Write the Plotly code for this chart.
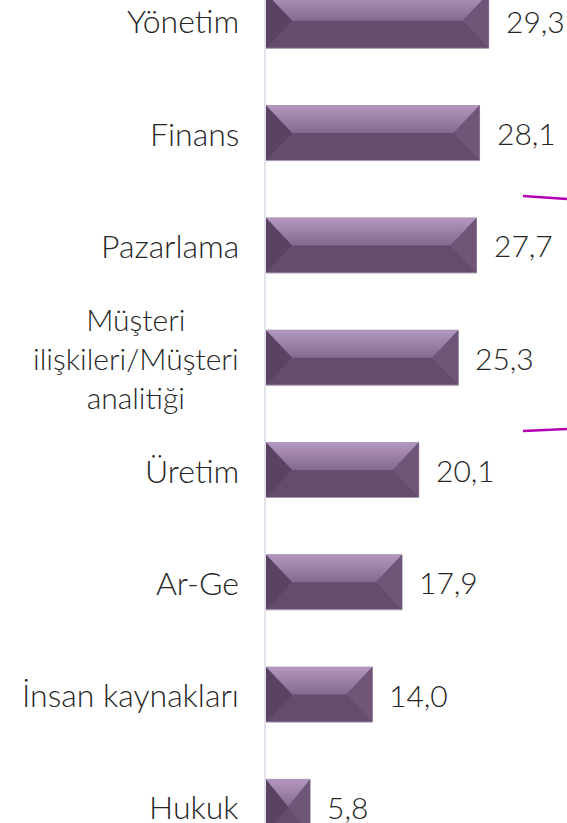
import plotly.graph_objects as go

categories = ["Yönetim", "Finans", "Pazarlama", "Müşteri<br>ilişkileri/Müşteri<br>analitiği",
              "Üretim", "Ar-Ge", "İnsan kaynakları", "Hukuk"]
values = [29.3, 28.1, 27.7, 25.3, 20.1, 17.9, 14.0, 5.8]

W, H = 567, 823
ML = 266
PX_PER_UNIT = 7.6
XMAX = (W - ML) / PX_PER_UNIT
FIRST_CENTER = 20.8
SPACING = 112.3
BAR_W = 0.49
BEVEL_PX = 26

MAIN = "#654c6e"
LEFT = "#5a4262"
RIGHT = "#6f5678"
TOP_LIGHT = "#b397bf"
TOP_MID = "#84698f"
FONT = "Lato"
TEXT_COLOR = "#262626"

pos = list(range(len(categories)))

fig = go.Figure()
fig.add_trace(go.Bar(
    x=values, y=pos, orientation="h", width=BAR_W,
    marker=dict(color=MAIN, line=dict(color="#a895b0", width=1)),
    hoverinfo="skip", showlegend=False,
))

d_unit = BEVEL_PX / PX_PER_UNIT
for i, v in zip(pos, values):
    top = i - BAR_W / 2
    bot = i + BAR_W / 2
    mid = i
    d = min(d_unit, v / 2)
    # top bevel (gradient)
    fig.add_trace(go.Scatter(
        x=[0, v, v - d, d, 0], y=[top, top, mid, mid, top],
        mode="lines", fill="toself", line=dict(width=0),
        fillgradient=dict(type="vertical", colorscale=[[0, TOP_LIGHT], [1, TOP_MID]],
                          start=top, stop=mid),
        hoverinfo="skip", showlegend=False,
    ))
    # left bevel
    fig.add_trace(go.Scatter(
        x=[0, d, 0, 0], y=[top, mid, bot, top],
        mode="lines", fill="toself", fillcolor=LEFT, line=dict(width=0),
        hoverinfo="skip", showlegend=False,
    ))
    # right bevel
    fig.add_trace(go.Scatter(
        x=[v, v, v - d, v], y=[top, bot, mid, top],
        mode="lines", fill="toself", fillcolor=RIGHT, line=dict(width=0),
        hoverinfo="skip", showlegend=False,
    ))

annotations = []
for i, v, c in zip(pos, values, categories):
    annotations.append(dict(
        x=v, y=i, xref="x", yref="y", text=f"{v:.1f}".replace(".", ","),
        showarrow=False, xanchor="left", yanchor="middle", xshift=15,
        font=dict(family=FONT, size=30, color=TEXT_COLOR, weight=300),
    ))
    multi = "<br>" in c
    annotations.append(dict(
        x=0, y=i, xref="paper", yref="y", text=c, align="center",
        showarrow=False, xanchor="right", yanchor="middle", xshift=-25,
        font=dict(family=FONT, size=30 if multi else 32, color=TEXT_COLOR, weight=300),
    ))

y_top = -FIRST_CENTER / SPACING
y_bot = (H - FIRST_CENTER) / SPACING

fig.update_layout(
    width=W, height=H,
    margin=dict(l=ML, r=0, t=0, b=0),
    paper_bgcolor="white", plot_bgcolor="white",
    annotations=annotations,
    hovermode=False,
    xaxis=dict(range=[0, XMAX], visible=False, fixedrange=True),
    yaxis=dict(range=[y_bot, y_top], showticklabels=False, showgrid=False,
               zeroline=False, showline=True, linecolor="#e3e3ec", linewidth=1.5,
               ticks="", fixedrange=True),
    shapes=[
        dict(type="line", xref="paper", yref="paper", x0=(523 - ML) / (W - ML), x1=1.0,
             y0=1 - 196 / H, y1=1 - 199 / H, line=dict(color="#b400b4", width=2.5)),
        dict(type="line", xref="paper", yref="paper", x0=(523 - ML) / (W - ML), x1=1.0,
             y0=1 - 431 / H, y1=1 - 429 / H, line=dict(color="#b400b4", width=2.5)),
    ],
)

fig.write_html("out.html", config={"displayModeBar": False},
               post_script="document.body.style.margin='0';document.body.style.overflow='hidden';")
